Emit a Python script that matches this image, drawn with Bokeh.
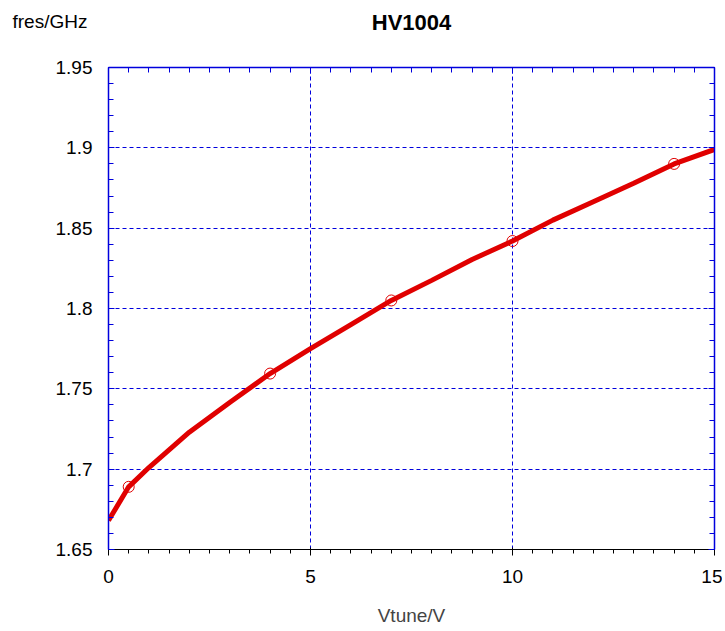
from bokeh.plotting import figure
from bokeh.models import (LinearAxis, SingleIntervalTicker, Range1d, Title,
                          CustomJSTickFormatter)
from bokeh.embed import file_html
from bokeh.resources import INLINE

# data
vtune = [0, 0.5, 1, 2, 3, 4, 5, 6, 7, 8, 9, 10, 11, 12, 13, 14, 15]
fres = [1.668, 1.689, 1.701, 1.723, 1.7415, 1.7595, 1.775, 1.790, 1.805,
        1.8175, 1.8305, 1.842, 1.855, 1.8665, 1.878, 1.890, 1.899]
marker_v = [0.5, 4, 7, 10, 14]
marker_f = [1.689, 1.7595, 1.805, 1.842, 1.890]

title_text = "HV1004"
x_label = "Vtune/V"
y_label = "fres/GHz"

BLUE = "#0000dd"
RED = "#e00000"
FONT = "Liberation Sans"

p = figure(frame_width=606, frame_height=482, output_backend="svg",
           toolbar_location=None, x_range=Range1d(0, 15),
           y_range=Range1d(1.65, 1.9500001),
           min_border_left=108, min_border_top=67, min_border_bottom=74,
           min_border_right=8)

xt = SingleIntervalTicker(interval=5, num_minor_ticks=10)
yt = SingleIntervalTicker(interval=0.05, num_minor_ticks=5)

p.xaxis.ticker = xt
p.yaxis.ticker = yt
p.yaxis.formatter = CustomJSTickFormatter(code="return String(parseFloat(tick.toFixed(3)));")

p.xaxis.axis_label = x_label
p.xaxis.axis_label_text_font = FONT
p.xaxis.axis_label_text_font_size = "19px"
p.xaxis.axis_label_text_font_style = "normal"
p.xaxis.axis_label_standoff = 19

p.xaxis.major_label_standoff = 14
p.yaxis.major_label_standoff = 16
for ax in (p.xaxis[0], p.yaxis[0]):
    ax.major_label_text_font = FONT
    ax.major_label_text_font_size = "19px"
    ax.major_label_text_color = "black"

blank = CustomJSTickFormatter(code="return '';")
top = LinearAxis(ticker=xt, formatter=blank, major_label_standoff=0)
right = LinearAxis(ticker=yt, formatter=blank, major_label_standoff=0)
p.add_layout(top, "above")
p.add_layout(right, "right")

for ax in (p.xaxis[0], p.yaxis[0], top, right):
    ax.axis_line_color = BLUE
    ax.axis_line_width = 1.5
    ax.major_tick_line_color = BLUE
    ax.minor_tick_line_color = BLUE
    ax.major_tick_in = 6
    ax.major_tick_out = 0
    ax.minor_tick_in = 5
    ax.minor_tick_out = 0

# invisible spacer between frame and the titles
spacer = LinearAxis(ticker=xt, formatter=blank, major_label_standoff=0,
                    axis_line_color=None, major_tick_line_color=None,
                    minor_tick_line_color=None, major_tick_in=0,
                    major_tick_out=31, minor_tick_in=0, minor_tick_out=0)
p.add_layout(spacer, "above")

ytitle = Title(text=y_label, align="left", offset=-96, standoff=10,
               text_font=FONT, text_font_size="19px", text_font_style="normal",
               text_color="black")
p.add_layout(ytitle, "above")

p.title.text = title_text
p.title.align = "center"
p.title.text_font = FONT
p.title.text_font_size = "22px"
p.title.text_font_style = "bold"
p.title.text_color = "black"
p.title.standoff = -62

p.outline_line_color = BLUE
p.xgrid.grid_line_color = BLUE
p.ygrid.grid_line_color = BLUE
p.xgrid.grid_line_dash = "4 3"
p.ygrid.grid_line_dash = "4 3"
p.xgrid.grid_line_width = 1
p.ygrid.grid_line_width = 1

p.line(vtune, fres, line_color=RED, line_width=5)
p.scatter(marker_v, marker_f, marker="circle", size=11, fill_color=None,
          line_color=RED, line_width=1)

open("out.html", "w").write(file_html(p, INLINE))
